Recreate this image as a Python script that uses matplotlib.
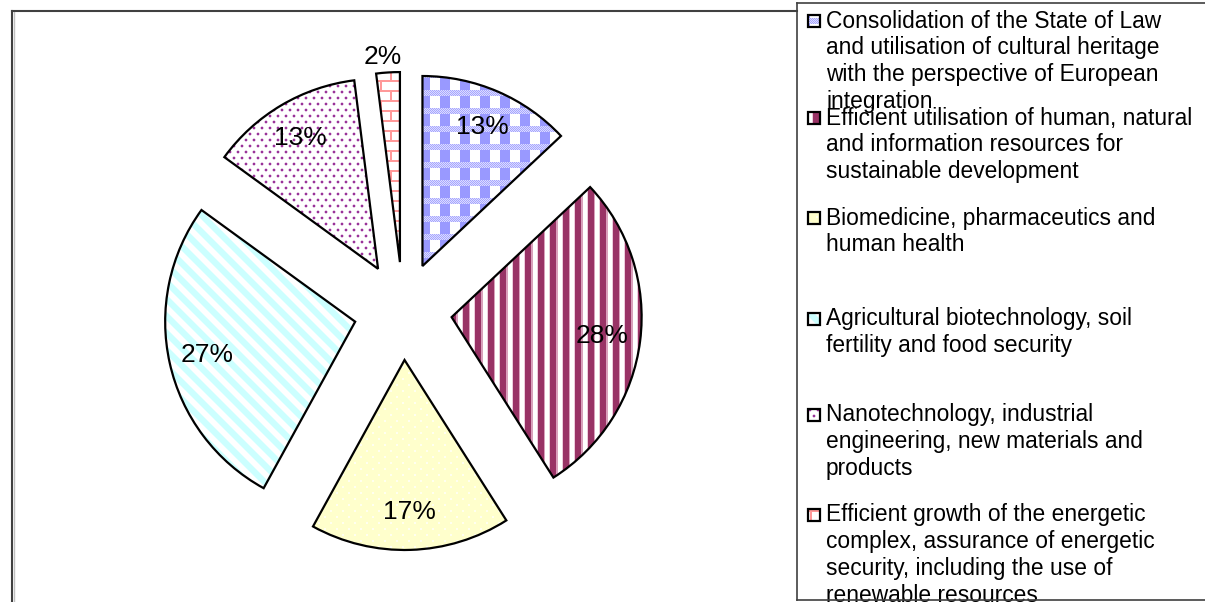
import numpy as np
import matplotlib
matplotlib.use("Agg")
from matplotlib import pyplot as plt
from matplotlib.patches import Rectangle
from matplotlib.lines import Line2D

# share of each research priority, %
shares = [13, 28, 17, 27, 13, 2]
priorities = [
    ["Consolidation of the State of Law", "and utilisation of cultural heritage",
     "with the perspective of European", "integration"],
    ["Efficient utilisation of human, natural", "and information resources for",
     "sustainable development"],
    ["Biomedicine, pharmaceutics and", "human health"],
    ["Agricultural biotechnology, soil", "fertility and food security"],
    ["Nanotechnology, industrial", "engineering, new materials and", "products"],
    ["Efficient growth of the energetic", "complex, assurance of energetic",
     "security, including the use of", "renewable resources"],
]

W, H = 1205, 602
plt.rcParams['font.family'] = ['Liberation Sans', 'DejaVu Sans']


def hexrgb(h):
    h = h.lstrip('#')
    return np.array([int(h[i:i + 2], 16) / 255.0 for i in (0, 2, 4)])


yy, xx = np.mgrid[0:H, 0:W]


def blank(col='#ffffff'):
    t = np.empty((H, W, 3))
    t[:] = hexrgb(col)
    return t


def tex_plaid():
    t = blank()
    px = xx % 20
    py = yy % 18
    band = py < 6
    chk = band & ((xx + yy) % 2 == 0)
    t[band] = hexrgb('#dcdcff')
    t[chk] = hexrgb('#a6a6ff')
    t[(~band) & (px < 10)] = hexrgb('#9999ff')
    return t


def tex_vstripes():
    t = blank()
    p = xx % 12.5
    t[p < 6] = hexrgb('#993366')
    t[(p >= 6) & (p < 7.5)] = hexrgb('#d9a0bc')
    t[(p >= 11.5)] = hexrgb('#ecccdc')
    return t


def tex_ydots():
    t = blank('#ffffcc')
    r = yy % 12
    dot = ((r < 2) & (xx % 12 < 2)) | ((r >= 6) & (r < 8) & ((xx + 6) % 12 < 2))
    t[dot] = hexrgb('#fffff0')
    return t


def tex_diag():
    t = blank()
    p = (xx - yy) % 17
    t[p < 8] = hexrgb('#ccffff')
    t[(p == 8) | (p == 16)] = hexrgb('#e6ffff')
    return t


def tex_pdots():
    t = blank()
    r = yy % 12
    cA = xx % 8
    cB = (xx + 4) % 8
    core = (((r >= 1) & (r < 3) & (cA >= 1) & (cA < 3)) |
            ((r >= 7) & (r < 9) & (cB >= 1) & (cB < 3)))
    halo = ((((r >= 1) & (r < 3)) & ((cA == 0) | (cA == 3))) |
            (((r == 0) | (r == 3)) & (cA >= 1) & (cA < 3)) |
            (((r >= 7) & (r < 9)) & ((cB == 0) | (cB == 3))) |
            (((r == 6) | (r == 9)) & (cB >= 1) & (cB < 3)))
    t[halo] = hexrgb('#e6cce6')
    t[core] = hexrgb('#993399')
    return t


def tex_brick():
    t = blank()
    row = yy // 10
    hl = yy % 10 < 2
    vl = np.where(row % 2 == 0, xx % 20 < 2, (xx + 10) % 20 < 2)
    t[hl | vl] = hexrgb('#ff9999')
    return t


textures = [tex_plaid(), tex_vstripes(), tex_ydots(), tex_diag(), tex_pdots(), tex_brick()]

fig = plt.figure(figsize=(W / 100, H / 100), dpi=100)
ax = fig.add_axes([0, 0, 1, 1])

cx, cy = 403, H - 311
wedges, texts, autotexts = ax.pie(
    shares, startangle=90, counterclock=False, radius=190, center=(cx, cy),
    explode=[49] * len(shares), autopct='%1.0f%%', pctdistance=0.8,
    labels=None, frame=True,
    wedgeprops=dict(edgecolor='black', linewidth=1.6, facecolor='none'),
    textprops=dict(fontsize=19, color='black'))

for w, tx in zip(wedges, textures):
    w.set_zorder(3)
    im = ax.imshow(tx, extent=(0, W, 0, H), origin='upper',
                   interpolation='nearest', zorder=2)
    im.set_clip_path(w)

for t in autotexts:
    t.set_zorder(4)
# the 2% slice is too narrow, its label sits outside
autotexts[-1].set_position((383, H - 57))

# chart area border
ax.add_line(Line2D([12, 12], [0, H - 11], color='#404040', lw=1.5))
ax.add_line(Line2D([14, 14], [0, H - 12], color='#c0c0c0', lw=1.0))
ax.add_line(Line2D([12, 797], [H - 11, H - 11], color='#404040', lw=1.5))

# legend box
ax.add_line(Line2D([797, 797], [2, H - 3], color='#404040', lw=1.2, zorder=5))
ax.add_line(Line2D([797, W], [2, 2], color='#404040', lw=1.2, zorder=5))
ax.add_line(Line2D([797, W], [H - 3, H - 3], color='#404040', lw=1.2, zorder=5))

entry_y = [21, 118, 218, 319, 415, 515]
pitch = 26.8
for lines, y0, tx in zip(priorities, entry_y, textures):
    sq = Rectangle((808, H - y0 - 6), 12, 12, facecolor='none',
                   edgecolor='black', lw=1.6, zorder=6)
    ax.add_patch(sq)
    im = ax.imshow(tx, extent=(0, W, 0, H), origin='upper',
                   interpolation='nearest', zorder=5)
    im.set_clip_path(sq)
    for k, s in enumerate(lines):
        ax.text(826, H - (y0 + k * pitch), s, fontsize=16.4, va='center',
                ha='left', color='black', zorder=4)

ax.set_xlim(0, W)
ax.set_ylim(0, H)
ax.set_aspect('auto')
ax.set_axis_off()

fig.savefig('out.png', dpi=100)
